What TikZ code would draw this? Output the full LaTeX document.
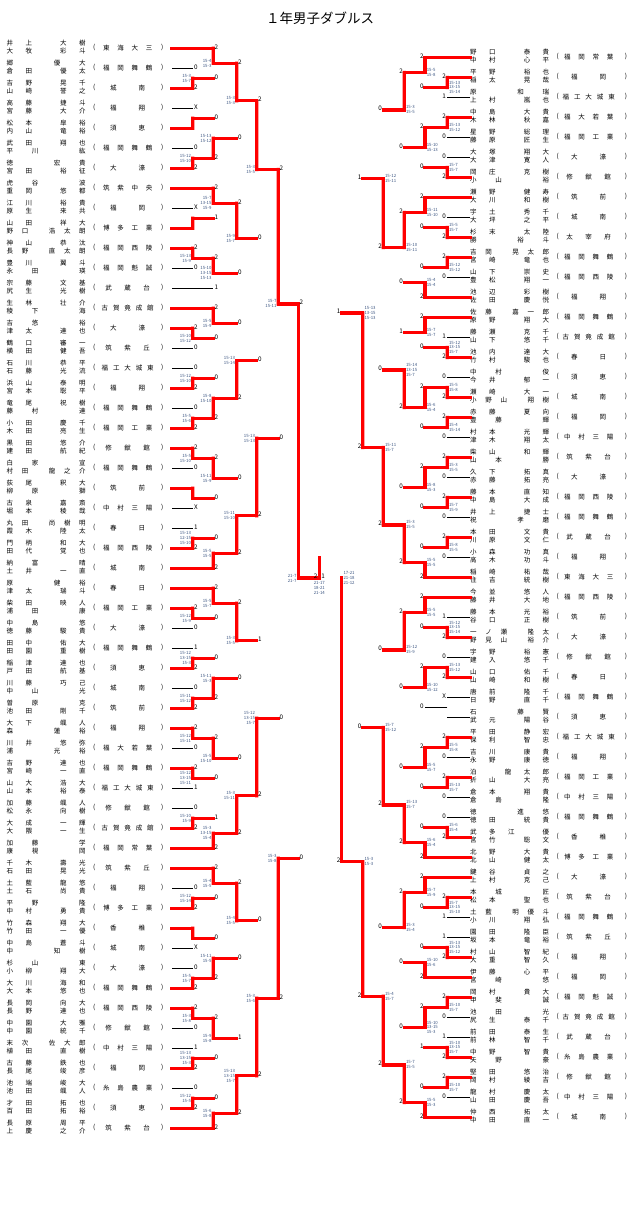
\documentclass[tikz,border=0pt]{standalone}
\usepackage{fontspec}
\newfontfamily\jp{Noto Sans CJK JP}
\usetikzlibrary{calc}
\pgfdeclarelayer{back}
\pgfsetlayers{back,main}
\definecolor{bred}{RGB}{255,0,0}
\definecolor{scorec}{RGB}{60,85,130}
\def\nmend{NMEND}
\def\nmtok#1{\ifx#1|\hbox to 3.2pt{}\else#1\fi}
\def\nmnext#1{\ifx#1\nmend\else\hfil\nmtok#1\expandafter\nmnext\fi}
\def\nmfirst#1{\nmtok#1\nmnext}
\newcommand\Nm[1]{\hbox to 79pt{\nmfirst#1\nmend}}
\newcommand\Sch[1]{\hbox to 57pt{\hskip 0pt plus .5fil\nmfirst#1\nmend\hskip 0pt plus .5fil}}
\def\lxA{192.7}\def\lxB{213.3}\def\lxC{236.7}\def\lxD{256.7}\def\lxE{278.3}\def\lxF{298.3}
\def\rxA{447.3}\def\rxB{425}\def\rxC{404.3}\def\rxD{383.3}\def\rxE{362.7}\def\rxF{341.7}
\tikzset{
 redln/.style={draw=bred, line width=3.3pt, line cap=rect},
 blkln/.style={draw=black, line width=0.8pt},
 lab/.style={font=\jp\fontsize{6.3}{7}\selectfont, inner sep=0pt},
 sc/.style={font=\jp\fontsize{4.3}{4.9}\selectfont, inner sep=0pt, text=scorec},
 nmn/.style={font=\jp\fontsize{6.5}{7}\selectfont, inner sep=0pt},
}
% entries
\newcommand\EnL[4]{%
 \coordinate (L#1) at (172,{48.3+20*#1});
 \node[nmn,anchor=west] (EL#1a) at (6.5,{48.3+20*#1-5}) {\Nm{#2}};
 \node[nmn,anchor=west] (EL#1b) at (6.5,{48.3+20*#1+2.5}) {\Nm{#3}};
 \node[nmn] (EL#1p) at (94.3,{48.3+20*#1-0.5}) {(};
 \node[nmn,anchor=west] (EL#1s) at (99,{48.3+20*#1-0.5}) {\Sch{#4}};
 \node[nmn] (EL#1q) at (162.3,{48.3+20*#1-0.5}) {)};
}
\newcommand\EnR[4]{%
 \coordinate (R#1) at (470,{57.4+20*#1});
 \node[nmn,anchor=west] (ER#1a) at (470,{57.4+20*#1-5}) {\Nm{#2}};
 \node[nmn,anchor=west] (ER#1b) at (470,{57.4+20*#1+2.5}) {\Nm{#3}};
 \node[nmn] (ER#1p) at (557.7,{57.4+20*#1-0.5}) {(};
 \node[nmn,anchor=west] (ER#1s) at (560,{57.4+20*#1-0.5}) {\Sch{#4}};
 \node[nmn] (ER#1q) at (626,{57.4+20*#1-0.5}) {)};
}
% matches: name, x, top, bottom, top style, bottom style, winner, top label, bottom label
\newcommand\MatL[9]{%
 \coordinate (#1X) at (#2,0);
 \coordinate (#1) at ($(#3 -| #1X)!.5!(#4 -| #1X)$);
 \begin{pgfonlayer}{back}\draw[blkln] (#3 -| #1X) -- (#4 -| #1X);\end{pgfonlayer}
 \draw[#5] (#3) -- (#3 -| #1X);
 \draw[#6] (#4) -- (#4 -| #1X);
 \if#7t\draw[redln] (#3 -| #1X) -- (#1);\fi
 \if#7b\draw[redln] (#4 -| #1X) -- (#1);\fi
 \path (#3 -| #1X) ++(1.2,-1.3) node[lab,anchor=west] (#1lt) {#8};
 \path (#4 -| #1X) ++(1.2,-1.3) node[lab,anchor=west] (#1lb) {#9};
}
\newcommand\MatR[9]{%
 \coordinate (#1X) at (#2,0);
 \coordinate (#1) at ($(#3 -| #1X)!.5!(#4 -| #1X)$);
 \begin{pgfonlayer}{back}\draw[blkln] (#3 -| #1X) -- (#4 -| #1X);\end{pgfonlayer}
 \draw[#5] (#3) -- (#3 -| #1X);
 \draw[#6] (#4) -- (#4 -| #1X);
 \if#7t\draw[redln] (#3 -| #1X) -- (#1);\fi
 \if#7b\draw[redln] (#4 -| #1X) -- (#1);\fi
 \path (#3 -| #1X) ++(-1.2,-1.3) node[lab,anchor=east] (#1lt) {#8};
 \path (#4 -| #1X) ++(-1.2,-1.3) node[lab,anchor=east] (#1lb) {#9};
}
\newcommand\ScL[2]{\path (#1) ++(-1.6,0) node[sc,anchor=east,align=right] (#1sc) {#2};}
\newcommand\ScR[2]{\path (#1) ++(1.6,0) node[sc,anchor=west,align=left] (#1sc) {#2};}
\begin{document}
\begin{tikzpicture}[x=1pt,y=-1pt]
\useasboundingbox (0,0) rectangle (640,1205);
\fill[white] (0,0) rectangle (640,1205);
\node[font=\jp\fontsize{13.5}{15}\selectfont, inner sep=0pt] (title) at (320,18) {１年男子ダブルス};
% ---------- left entries
\EnL{0}{井上|大樹}{大牧|彩斗}{東海大三}
\EnL{1}{郷|優大}{倉田|優太}{福岡舞鶴}
\EnL{2}{吉野|晃千}{山崎|誉之}{城南}
\EnL{3}{高藤|捷斗}{宮藤|大介}{福翔}
\EnL{4}{松本|皐裕}{内山|竜裕}{須恵}
\EnL{5}{武田|翔也}{平川|紘}{福岡舞鶴}
\EnL{6}{徳|宏貴}{宮田|裕征}{大濠}
\EnL{7}{虎谷|波}{重岡|悠都}{筑紫中央}
\EnL{8}{江川|裕貴}{原生|来共}{福岡}
\EnL{9}{山田|祥大}{野口|浩太朗}{博多工業}
\EnL{10}{神山|恭汰}{長野|直太朗}{福岡西陵}
\EnL{11}{豊川|翼斗}{永田|瑛}{福岡魁誠}
\EnL{12}{宗藤|文基}{尻生|光樹}{武蔵台}
\EnL{13}{生林|壮介}{稜下|海}{古賀竟成館}
\EnL{14}{吉悠|裕}{津太|達也}{大濠}
\EnL{15}{鶴口|審一}{横田|健吾}{筑紫丘}
\EnL{16}{石川|恭平}{石藤|光流}{福工大城東}
\EnL{17}{浜山|泰明}{宮本|聡平}{福翔}
\EnL{18}{竜尾|祝樹}{藤村|達}{福岡舞鶴}
\EnL{19}{小田|慶千}{木田|亮生}{福岡工業}
\EnL{20}{黒田|悠介}{建田|航紀}{修猷館}
\EnL{21}{白家|宣}{村田|龍之介}{福岡舞鶴}
\EnL{22}{荻尾|釈大}{柳原|獅}{筑前}
\EnL{23}{古泉|嘉斎}{堀本|稜哉}{中村三陽}
\EnL{24}{丸田|尚樹明}{霞木|陸太}{春日}
\EnL{25}{門柄|和大}{田代|覚也}{福岡西陵}
\EnL{26}{納富|晴}{土井|一直}{城南}
\EnL{27}{原|健裕}{津太|瑞斗}{春日}
\EnL{28}{柴田|映人}{浦田|康}{福岡工業}
\EnL{29}{中島|悠}{徳藤|駿貴}{大濠}
\EnL{30}{田中|佑大}{田園|重樹}{福岡舞鶴}
\EnL{31}{稲津|達也}{戸田|航基}{須恵}
\EnL{32}{川藤|巧己}{中山|光}{城南}
\EnL{33}{曽原|克}{池田|剛千}{筑前}
\EnL{34}{大下|颯人}{森|蓮裕}{福翔}
\EnL{35}{川井|悠弥}{浦|光裕}{福大若葉}
\EnL{36}{吉野|達也}{宮崎|一直}{福岡舞鶴}
\EnL{37}{山大|浩大}{山本|裕泰}{福工大城東}
\EnL{38}{加藤|颯人}{松永|向樹}{修猷館}
\EnL{39}{大成|一輝}{大隈|一生}{古賀竟成館}
\EnL{40}{加藤|学}{康視|岡}{福岡常葉}
\EnL{41}{千木|壽光}{石田|晃光}{筑紫丘}
\EnL{42}{土藍|龍悠}{土石|尚貴}{福翔}
\EnL{43}{平野|隆}{中村|勇貴}{博多工業}
\EnL{44}{竹森|翔大}{竹田|一優}{香椎}
\EnL{45}{中島|蒼斗}{中|知樹}{城南}
\EnL{46}{杉山|東}{小柳|翔大}{大濠}
\EnL{47}{大川|海和}{大本|悠也}{福岡舞鶴}
\EnL{48}{長岡|向大}{長野|達也}{福岡西陵}
\EnL{49}{中園|大雅}{中園|統千}{修猷館}
\EnL{50}{末次|佐大郎}{植田|直樹}{中村三陽}
\EnL{51}{古藤|鉄也}{長尾|竣彦}{福岡}
\EnL{52}{池端|峻大}{池田|颯人}{糸島農業}
\EnL{53}{才田|拓也}{百田|拓裕}{須恵}
\EnL{54}{長原|周平}{上慶|之介}{筑紫台}
% ---------- right entries
\EnR{0}{野口|泰貴}{中村|心平}{福岡常葉}
\EnR{1}{平野|裕也}{稲太|晃哉}{福岡}
\EnR{2}{原|和瑞}{上村|嵐也}{福工大城東}
\EnR{3}{中島|大貴}{木林|秋嘉}{福大若葉}
\EnR{4}{星野|総理}{藤原|匠生}{福岡工業}
\EnR{5}{大塚|翔大}{大津|寛人}{大濠}
\EnR{6}{岡庄|克樹}{小山|裕}{修猷館}
\EnR{7}{瀬野|健寿}{大川|和樹}{筑前}
\EnR{8}{宇土|秀千}{大坪|之平}{城南}
\EnR{9}{杉末|太陸}{勝|裕斗}{太宰府}
\EnR{10}{吉岡|晃太郎}{宮崎|竜也}{福岡舞鶴}
\EnR{11}{山下|崇史}{豊松|翔一}{福岡西陵}
\EnR{12}{池辺|彩樹}{佐田|慶悦}{福翔}
\EnR{13}{佐藤|嘉一郎}{原野|翔大}{福岡舞鶴}
\EnR{14}{藤瀬|克千}{山下|悠千}{古賀竟成館}
\EnR{15}{池内|達大}{竹村|駿也}{春日}
\EnR{16}{中村|俊}{今井|郁一}{須恵}
\EnR{17}{瀬崎|大一}{小野山|翔樹}{城南}
\EnR{18}{赤藤|夏向}{豊藤|輝}{福岡}
\EnR{19}{村本|光輝}{津木|翔太}{中村三陽}
\EnR{20}{柴山|和輝}{山本|勝}{筑紫台}
\EnR{21}{久下|拓真}{赤藤|拓亮}{大濠}
\EnR{22}{藤本|直知}{中島|大成}{福岡西陵}
\EnR{23}{井上|捷士}{祝|孝磨}{福岡舞鶴}
\EnR{24}{本田|文貴}{川原|文仁}{武蔵台}
\EnR{25}{小森|功真}{高木|功斗}{福翔}
\EnR{26}{稲崎|祐哉}{住吉|統樹}{東海大三}
\EnR{27}{今並|悠人}{藤井|大地}{福岡西陵}
\EnR{28}{藤本|光裕}{谷口|正樹}{筑前}
\EnR{29}{一ノ瀬|隆太}{野見山|裕介}{大濠}
\EnR{30}{宇野|裕憲}{建入|悠千}{修猷館}
\EnR{31}{山口|佑千}{山崎|和樹}{春日}
\EnR{32}{唐前|隆千}{日野|直千}{福岡舞鶴}
\EnR{33}{石|藤賢}{武元|陽谷}{須恵}
\EnR{34}{平田|静宏}{保利|智忠}{福工大城東}
\EnR{35}{吉川|康貴}{永野|康徳}{福翔}
\EnR{36}{泊|龍太郎}{折山|大亮}{福岡工業}
\EnR{37}{倉本|翔貴}{倉島|隆}{中村三陽}
\EnR{38}{徳|進悠}{徳田|統貴}{福岡舞鶴}
\EnR{39}{武多江|優}{宮竹|聡文}{香椎}
\EnR{40}{北野|大貴}{北山|健太}{博多工業}
\EnR{41}{鍵谷|貞之}{上村|克己}{大濠}
\EnR{42}{本城|匠}{松本|聖也}{筑紫台}
\EnR{43}{土藍|明優斗}{小川|翔弘}{福岡舞鶴}
\EnR{44}{園田|隆臣}{坂本|竜裕}{筑紫丘}
\EnR{45}{村山|智紀}{大重|智久}{福翔}
\EnR{46}{伊藤|心平}{宮崎|悠}{福岡}
\EnR{47}{岡村|貴大}{甲斐|誠}{福岡魁誠}
\EnR{48}{池田|光}{尻生|泰千}{古賀竟成館}
\EnR{49}{前田|泰生}{前林|智千}{武蔵台}
\EnR{50}{中野|智貴}{矢野|豪}{糸島農業}
\EnR{51}{堅田|悠治}{岡村|綾吉}{修猷館}
\EnR{52}{龍村|慶太}{山田|慶吾}{中村三陽}
\EnR{53}{仲西|拓太}{中田|直一}{城南}
% ---------- left bracket
\MatL{L1a}{\lxA}{L1}{L2}{blkln}{redln}{b}{0}{2} \ScL{L1a}{15-3\\15-7}
\MatL{L2a}{\lxB}{L0}{L1a}{redln}{redln}{t}{2}{0} \ScL{L2a}{15-4\\15-3}
\MatL{L1b}{\lxA}{L3}{L4}{blkln}{redln}{b}{X}{}
\MatL{L1c}{\lxA}{L5}{L6}{blkln}{redln}{b}{0}{2} \ScL{L1c}{15-12\\15-10}
\MatL{L2b}{\lxB}{L1b}{L1c}{redln}{redln}{b}{0}{2} \ScL{L2b}{15-13\\15-12}
\MatL{L3a}{\lxC}{L2a}{L2b}{redln}{redln}{t}{2}{0} \ScL{L3a}{15-3\\15-3}
\MatL{L1d}{\lxA}{L8}{L9}{blkln}{redln}{b}{X}{}
\MatL{L2c}{\lxB}{L7}{L1d}{redln}{redln}{t}{2}{1} \ScL{L2c}{15-7\\13-15\\15-9}
\MatL{L1e}{\lxA}{L10}{L11}{redln}{blkln}{t}{2}{0} \ScL{L1e}{15-13\\15-9}
\MatL{L2d}{\lxB}{L1e}{L12}{redln}{blkln}{t}{2}{1} \ScL{L2d}{15-10\\13-15\\15-13}
\MatL{L3b}{\lxC}{L2c}{L2d}{redln}{redln}{t}{2}{0} \ScL{L3b}{15-9\\15-7}
\MatL{L4a}{\lxD}{L3a}{L3b}{redln}{redln}{t}{2}{0} \ScL{L4a}{15-3\\15-5}
\MatL{L1f}{\lxA}{L14}{L15}{redln}{blkln}{t}{2}{0} \ScL{L1f}{15-10\\15-12}
\MatL{L2e}{\lxB}{L13}{L1f}{redln}{redln}{t}{2}{0} \ScL{L2e}{15-5\\15-9}
\MatL{L1g}{\lxA}{L16}{L17}{blkln}{redln}{b}{0}{2} \ScL{L1g}{15-12\\15-10}
\MatL{L1h}{\lxA}{L18}{L19}{blkln}{redln}{b}{0}{2} \ScL{L1h}{15-5\\15-6}
\MatL{L2f}{\lxB}{L1g}{L1h}{redln}{redln}{b}{0}{2} \ScL{L2f}{15-8\\15-10}
\MatL{L3c}{\lxC}{L2e}{L2f}{redln}{redln}{b}{0}{2} \ScL{L3c}{15-13\\15-14}
\MatL{L1i}{\lxA}{L20}{L21}{redln}{blkln}{t}{2}{0} \ScL{L1i}{15-5\\15-10}
\MatL{L1j}{\lxA}{L22}{L23}{redln}{blkln}{t}{}{X}
\MatL{L2g}{\lxB}{L1i}{L1j}{redln}{redln}{t}{2}{0} \ScL{L2g}{15-11\\15-9}
\MatL{L1k}{\lxA}{L24}{L25}{blkln}{redln}{b}{1}{2} \ScL{L1k}{15-13\\12-15\\15-10}
\MatL{L2h}{\lxB}{L1k}{L26}{redln}{redln}{b}{0}{2} \ScL{L2h}{15-5\\15-5}
\MatL{L3d}{\lxC}{L2g}{L2h}{redln}{redln}{b}{0}{2} \ScL{L3d}{15-11\\15-10}
\MatL{L4b}{\lxD}{L3c}{L3d}{redln}{redln}{b}{0}{2} \ScL{L4b}{15-13\\15-13}
\MatL{L5a}{\lxE}{L4a}{L4b}{redln}{redln}{t}{2}{0} \ScL{L5a}{15-7\\15-11}
\MatL{L1l}{\lxA}{L28}{L29}{redln}{blkln}{t}{2}{0} \ScL{L1l}{15-12\\15-9}
\MatL{L2i}{\lxB}{L27}{L1l}{redln}{redln}{t}{2}{0} \ScL{L2i}{15-5\\15-7}
\MatL{L1m}{\lxA}{L30}{L31}{blkln}{redln}{b}{1}{2} \ScL{L1m}{15-12\\13-15\\15-3}
\MatL{L1n}{\lxA}{L32}{L33}{blkln}{redln}{b}{0}{2} \ScL{L1n}{15-11\\15-12}
\MatL{L2j}{\lxB}{L1m}{L1n}{redln}{redln}{b}{0}{2} \ScL{L2j}{15-11\\15-3}
\MatL{L3e}{\lxC}{L2i}{L2j}{redln}{redln}{t}{2}{0} \ScL{L3e}{15-3\\15-5}
\MatL{L1o}{\lxA}{L34}{L35}{redln}{blkln}{t}{2}{0} \ScL{L1o}{15-12\\15-11}
\MatL{L1p}{\lxA}{L36}{L37}{redln}{blkln}{t}{2}{1} \ScL{L1p}{15-12\\13-15\\15-11}
\MatL{L2k}{\lxB}{L1o}{L1p}{redln}{redln}{t}{2}{0} \ScL{L2k}{15-5\\15-10}
\MatL{L1q}{\lxA}{L38}{L39}{blkln}{redln}{b}{0}{2} \ScL{L1q}{15-10\\15-9}
\MatL{L2l}{\lxB}{L1q}{L40}{redln}{redln}{b}{1}{2} \ScL{L2l}{15-3\\13-15\\15-4}
\MatL{L3f}{\lxC}{L2k}{L2l}{redln}{redln}{b}{0}{2} \ScL{L3f}{15-3\\15-11}
\MatL{L4c}{\lxD}{L3e}{L3f}{redln}{redln}{b}{1}{2} \ScL{L4c}{15-12\\13-15\\15-7}
\MatL{L1r}{\lxA}{L42}{L43}{blkln}{redln}{b}{0}{2} \ScL{L1r}{15-12\\15-14}
\MatL{L2m}{\lxB}{L41}{L1r}{redln}{redln}{t}{2}{0} \ScL{L2m}{15-4\\15-5}
\MatL{L1s}{\lxA}{L44}{L45}{redln}{blkln}{t}{}{X}
\MatL{L1t}{\lxA}{L46}{L47}{blkln}{redln}{b}{0}{2} \ScL{L1t}{15-5\\15-7}
\MatL{L2n}{\lxB}{L1s}{L1t}{redln}{redln}{b}{0}{2} \ScL{L2n}{15-11\\15-5}
\MatL{L3g}{\lxC}{L2m}{L2n}{redln}{redln}{t}{2}{0} \ScL{L3g}{15-4\\15-5}
\MatL{L1u}{\lxA}{L48}{L49}{redln}{blkln}{t}{2}{0} \ScL{L1u}{15-3\\15-8}
\MatL{L1v}{\lxA}{L50}{L51}{blkln}{redln}{b}{1}{2} \ScL{L1v}{15-13\\13-15\\15-3}
\MatL{L2o}{\lxB}{L1u}{L1v}{redln}{redln}{t}{2}{0} \ScL{L2o}{15-9\\15-8}
\MatL{L1w}{\lxA}{L52}{L53}{blkln}{redln}{b}{0}{2} \ScL{L1w}{15-12\\15-5}
\MatL{L2p}{\lxB}{L1w}{L54}{redln}{redln}{b}{0}{2} \ScL{L2p}{15-6\\15-8}
\MatL{L3h}{\lxC}{L2o}{L2p}{redln}{redln}{b}{1}{2} \ScL{L3h}{15-13\\13-15\\15-7}
\MatL{L4d}{\lxD}{L3g}{L3h}{redln}{redln}{b}{0}{2} \ScL{L4d}{15-3\\15-6}
\MatL{L5b}{\lxE}{L4c}{L4d}{redln}{redln}{b}{0}{2} \ScL{L5b}{15-3\\15-8}
% left semifinal
\coordinate (L6X) at (\lxF,0);
\coordinate (L6) at (\lxF,578);
\begin{pgfonlayer}{back}\draw[blkln] (L5a -| L6X) -- (L5b -| L6X);\end{pgfonlayer}
\draw[redln] (L5a) -- (L5a -| L6X);
\draw[redln] (L5b) -- (L5b -| L6X);
\draw[redln] (L5a -| L6X) -- (L6);
\path (L5a -| L6X) ++(1.2,-1.3) node[lab,anchor=west] (L6lt) {2};
\path (L5b -| L6X) ++(1.2,-1.3) node[lab,anchor=west] (L6lb) {0};
\ScL{L6}{21-7\\21-7}
% ---------- right bracket
\MatR{R1a}{\rxA}{R1}{R2}{redln}{blkln}{t}{2}{1} \ScR{R1a}{15-13\\13-15\\15-14}
\MatR{R2a}{\rxB}{R0}{R1a}{redln}{redln}{t}{2}{0} \ScR{R2a}{15-5\\15-8}
\MatR{R1b}{\rxA}{R3}{R4}{redln}{blkln}{t}{2}{0} \ScR{R1b}{15-13\\15-12}
\MatR{R1c}{\rxA}{R5}{R6}{blkln}{redln}{b}{0}{2} \ScR{R1c}{15-7\\15-7}
\MatR{R2b}{\rxB}{R1b}{R1c}{redln}{redln}{t}{2}{0} \ScR{R2b}{15-10\\15-13}
\MatR{R3a}{\rxC}{R2a}{R2b}{redln}{redln}{t}{2}{0} \ScR{R3a}{15-3\\15-5}
\MatR{R1d}{\rxA}{R8}{R9}{blkln}{redln}{b}{0}{2} \ScR{R1d}{15-5\\15-7}
\MatR{R2c}{\rxB}{R7}{R1d}{redln}{redln}{t}{2}{0} \ScR{R2c}{15-11\\15-10}
\MatR{R1e}{\rxA}{R10}{R11}{redln}{blkln}{t}{2}{0} \ScR{R1e}{15-12\\15-12}
\MatR{R2d}{\rxB}{R1e}{R12}{redln}{redln}{b}{0}{2} \ScR{R2d}{15-4\\15-4}
\MatR{R3b}{\rxC}{R2c}{R2d}{redln}{redln}{t}{2}{0} \ScR{R3b}{15-10\\15-11}
\MatR{R4a}{\rxD}{R3a}{R3b}{redln}{redln}{b}{0}{2} \ScR{R4a}{15-12\\15-11}
\MatR{R1f}{\rxA}{R14}{R15}{blkln}{redln}{b}{1}{2} \ScR{R1f}{15-12\\13-15\\15-7}
\MatR{R2e}{\rxB}{R13}{R1f}{redln}{redln}{t}{2}{0} \ScR{R2e}{15-7\\15-7}
\MatR{R1g}{\rxA}{R16}{R17}{blkln}{redln}{b}{0}{2} \ScR{R1g}{15-5\\15-8}
\MatR{R1h}{\rxA}{R18}{R19}{redln}{blkln}{t}{2}{0} \ScR{R1h}{15-4\\15-14}
\MatR{R2f}{\rxB}{R1g}{R1h}{redln}{redln}{t}{2}{0} \ScR{R2f}{15-6\\15-4}
\MatR{R3c}{\rxC}{R2e}{R2f}{redln}{redln}{b}{1}{2} \ScR{R3c}{15-14\\13-15\\15-7}
\MatR{R1i}{\rxA}{R20}{R21}{redln}{blkln}{t}{2}{0} \ScR{R1i}{15-3\\15-5}
\MatR{R1j}{\rxA}{R22}{R23}{redln}{blkln}{t}{2}{0} \ScR{R1j}{15-7\\15-9}
\MatR{R2g}{\rxB}{R1i}{R1j}{redln}{redln}{t}{2}{0} \ScR{R2g}{15-8\\15-3}
\MatR{R1k}{\rxA}{R24}{R25}{redln}{blkln}{t}{2}{0} \ScR{R1k}{15-8\\15-5}
\MatR{R2h}{\rxB}{R1k}{R26}{redln}{redln}{b}{0}{2} \ScR{R2h}{15-5\\15-5}
\MatR{R3d}{\rxC}{R2g}{R2h}{redln}{redln}{b}{0}{2} \ScR{R3d}{15-3\\15-5}
\MatR{R4b}{\rxD}{R3c}{R3d}{redln}{redln}{b}{0}{2} \ScR{R4b}{15-11\\15-7}
\MatR{R5a}{\rxE}{R4a}{R4b}{redln}{redln}{b}{1}{2} \ScR{R5a}{15-13\\13-15\\15-13}
\MatR{R1l}{\rxA}{R28}{R29}{blkln}{redln}{b}{1}{2} \ScR{R1l}{15-12\\13-15\\15-14}
\MatR{R2i}{\rxB}{R27}{R1l}{redln}{redln}{t}{2}{0} \ScR{R2i}{15-5\\15-5}
\MatR{R1m}{\rxA}{R30}{R31}{blkln}{redln}{b}{0}{2} \ScR{R1m}{15-13\\15-12}
\MatR{R1n}{\rxA}{R32}{R33}{blkln}{blkln}{n}{X}{}
\MatR{R2j}{\rxB}{R1m}{R1n}{redln}{blkln}{t}{2}{0} \ScR{R2j}{15-10\\15-12}
\MatR{R3e}{\rxC}{R2i}{R2j}{redln}{redln}{t}{2}{0} \ScR{R3e}{15-12\\15-9}
\MatR{R1o}{\rxA}{R34}{R35}{redln}{blkln}{t}{2}{0} \ScR{R1o}{15-5\\15-8}
\MatR{R1p}{\rxA}{R36}{R37}{redln}{blkln}{t}{2}{0} \ScR{R1p}{15-13\\15-7}
\MatR{R2k}{\rxB}{R1o}{R1p}{redln}{redln}{t}{2}{0} \ScR{R2k}{15-5\\15-7}
\MatR{R1q}{\rxA}{R38}{R39}{blkln}{redln}{b}{0}{2} \ScR{R1q}{15-6\\15-4}
\MatR{R2l}{\rxB}{R1q}{R40}{redln}{redln}{b}{0}{2} \ScR{R2l}{15-6\\15-4}
\MatR{R3f}{\rxC}{R2k}{R2l}{redln}{redln}{b}{0}{2} \ScR{R3f}{15-13\\15-7}
\MatR{R4c}{\rxD}{R3e}{R3f}{redln}{redln}{b}{0}{2} \ScR{R4c}{15-7\\15-12}
\MatR{R1r}{\rxA}{R42}{R43}{redln}{blkln}{t}{2}{1} \ScR{R1r}{15-7\\13-15\\15-10}
\MatR{R2m}{\rxB}{R41}{R1r}{redln}{redln}{t}{2}{0} \ScR{R2m}{15-7\\15-9}
\MatR{R1s}{\rxA}{R44}{R45}{blkln}{redln}{b}{1}{2} \ScR{R1s}{15-13\\13-15\\15-12}
\MatR{R2n}{\rxB}{R1s}{R46}{redln}{redln}{b}{0}{2} \ScR{R2n}{15-10\\15-6}
\MatR{R3g}{\rxC}{R2m}{R2n}{redln}{redln}{t}{2}{0} \ScR{R3g}{15-3\\15-4}
\MatR{R1t}{\rxA}{R47}{R48}{redln}{blkln}{t}{2}{0} \ScR{R1t}{15-10\\15-7}
\MatR{R1u}{\rxA}{R49}{R50}{blkln}{redln}{b}{1}{2} \ScR{R1u}{15-10\\13-15\\15-7}
\MatR{R2o}{\rxB}{R1t}{R1u}{redln}{redln}{t}{2}{1} \ScR{R2o}{15-10\\13-15\\15-3}
\MatR{R1v}{\rxA}{R51}{R52}{redln}{blkln}{t}{2}{0} \ScR{R1v}{15-10\\15-7}
\MatR{R2p}{\rxB}{R1v}{R53}{redln}{redln}{b}{0}{2} \ScR{R2p}{15-5\\15-3}
\MatR{R3h}{\rxC}{R2o}{R2p}{redln}{redln}{b}{0}{2} \ScR{R3h}{15-7\\15-5}
\MatR{R4d}{\rxD}{R3g}{R3h}{redln}{redln}{b}{0}{2} \ScR{R4d}{15-4\\15-7}
\MatR{R5b}{\rxE}{R4c}{R4d}{redln}{redln}{b}{0}{2} \ScR{R5b}{15-3\\15-3}
% right semifinal
\coordinate (R6X) at (\rxF,0);
\coordinate (R6) at (\rxF,578);
\begin{pgfonlayer}{back}\draw[blkln] (R5a -| R6X) -- (R5b -| R6X);\end{pgfonlayer}
\draw[redln] (R5a) -- (R5a -| R6X);
\draw[redln] (R5b) -- (R5b -| R6X);
\draw[redln] (R5b -| R6X) -- (R6);
\path (R5a -| R6X) ++(-1.2,-1.3) node[lab,anchor=east] (R6lt) {1};
\path (R5b -| R6X) ++(-1.2,-1.3) node[lab,anchor=east] (R6lb) {2};
\ScR{R6}{17-21\\21-18\\21-12}
% ---------- final
\coordinate (FX) at (319.3,0);
\coordinate (F) at (L6 -| FX);
\coordinate (Ftop) at (319.3,558);
\begin{pgfonlayer}{back}\draw[blkln] (F) -- (R6);\end{pgfonlayer}
\draw[redln] (L6) -- (F);
\draw[redln] (F) -- (Ftop);
\path (F) ++(-1.8,-1.3) node[lab,anchor=east] (Flt) {2};
\path (F) ++(1.8,-1.3) node[lab,anchor=west] (Flb) {1};
\path (F) ++(0,3) node[sc,anchor=north,align=center] (Fsc) {21-17\\18-21\\21-14};
\end{tikzpicture}
\end{document}
